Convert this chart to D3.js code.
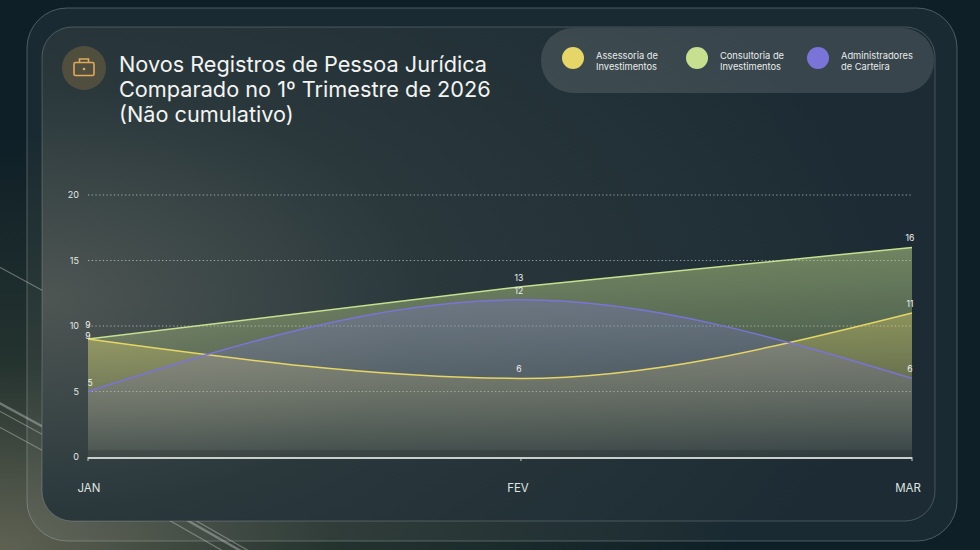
<!DOCTYPE html>
<html>
<head>
<meta charset="utf-8">
<script src="https://cdn.jsdelivr.net/npm/d3@7"></script>
<style>
  html, body { margin: 0; padding: 0; background: #0f2129; }
  svg { display: block; font-family: Inter, "Noto Sans", sans-serif; }
</style>
</head>
<body>
<svg id="chart" width="980" height="550"></svg>
<script>
// ---------------- DATA ----------------

const months = ["JAN", "FEV", "MAR"];
const monthDates = ["2026-01-01", "2026-02-01", "2026-03-01"];
const seriesNames = [
  ["Consultoria de", "Investimentos"],
  ["Assessoria de", "Investimentos"],
  ["Administradores", "de Carteira"]
];
const consultoria = [9, 13, 16];
const assessoria = [9, 6, 11];
const administradores = [5, 12, 6];
const yTicks = [0, 5, 10, 15, 20];
const titleLines = [
  "Novos Registros de Pessoa Jurídica",
  "Comparado no 1º Trimestre de 2026",
  "(Não cumulativo)"
];
// legend order as shown left to right
const legendOrder = [1, 0, 2];

const colors = ["#c6e08f", "#e6d567", "#7b74d8"];
const values = [consultoria, assessoria, administradores];
const dates = monthDates.map(d => new Date(d + "T00:00:00"));

// ---------------- SETUP ----------------

const W = 980, H = 550;
const svg = d3.select("#chart");
const defs = svg.append("defs");

// page background
const bgGrad = defs.append("radialGradient").attr("id", "bg")
  .attr("cx", "0%").attr("cy", "100%").attr("r", "75%");
bgGrad.append("stop").attr("offset", "0%").attr("stop-color", "#5f6253");
bgGrad.append("stop").attr("offset", "45%").attr("stop-color", "#25332f");
bgGrad.append("stop").attr("offset", "100%").attr("stop-color", "#0e1f27");
svg.append("rect").attr("width", W).attr("height", H).attr("fill", "url(#bg)");

// decorative diagonal streaks in the background
const streaks = [
  [[-10, 262], [60, 300], 1.2],
  [[-10, 398], [60, 436], 2.4],
  [[-10, 406], [60, 444], 1.2],
  [[-10, 422], [60, 460], 1.2],
  [[160, 515], [230, 555], 1.2],
  [[178, 515], [248, 555], 2.4],
  [[186, 515], [256, 555], 1.2]
];
svg.append("g").selectAll("line").data(streaks).join("line")
  .attr("x1", d => d[0][0]).attr("y1", d => d[0][1])
  .attr("x2", d => d[1][0]).attr("y2", d => d[1][1])
  .attr("stroke", "#a4aca8").attr("stroke-opacity", 0.55).attr("stroke-width", d => d[2]);

// outer glass panel
svg.append("rect")
  .attr("x", 27).attr("y", 8).attr("width", 930).attr("height", 533).attr("rx", 40)
  .attr("fill", "#ffffff").attr("fill-opacity", 0.05)
  .attr("stroke", "#b8c2c2").attr("stroke-opacity", 0.35).attr("stroke-width", 1);

// inner panel
const pGrad = defs.append("radialGradient").attr("id", "panel")
  .attr("cx", "0%").attr("cy", "55%").attr("r", "95%");
pGrad.append("stop").attr("offset", "0%").attr("stop-color", "#4e5653");
pGrad.append("stop").attr("offset", "45%").attr("stop-color", "#2a383c");
pGrad.append("stop").attr("offset", "100%").attr("stop-color", "#1d2c34");
svg.append("rect")
  .attr("x", 42).attr("y", 27).attr("width", 893).attr("height", 494).attr("rx", 30)
  .attr("fill", "url(#panel)")
  .attr("stroke", "#c8d2d2").attr("stroke-opacity", 0.25).attr("stroke-width", 1);

// ---------------- HEADER ----------------

const icon = svg.append("g").attr("transform", "translate(84,68)");
icon.append("circle").attr("r", 22).attr("fill", "#57533f").attr("fill-opacity", 0.85);
icon.append("rect").attr("x", -10).attr("y", -5.5).attr("width", 20).attr("height", 13).attr("rx", 1.5)
  .attr("fill", "none").attr("stroke", "#e0a95e").attr("stroke-width", 1.6);
icon.append("path").attr("d", "M-4.5,-5.5 V-9 H4.5 V-5.5")
  .attr("fill", "none").attr("stroke", "#e0a95e").attr("stroke-width", 1.6);
icon.append("circle").attr("cx", 0).attr("cy", 1).attr("r", 1.3).attr("fill", "#e0a95e");

svg.append("g").selectAll("text").data(titleLines).join("text")
  .attr("x", 119).attr("y", (d, i) => 72 + i * 25)
  .attr("fill", "#f3f4f2").attr("font-size", 21.7)
  .text(d => d);

// legend pill
svg.append("rect")
  .attr("x", 541).attr("y", 28).attr("width", 393).attr("height", 65).attr("rx", 32)
  .attr("fill", "#ffffff").attr("fill-opacity", 0.12);

const legend = svg.append("g").selectAll("g").data(legendOrder).join("g")
  .attr("transform", (d, i) => `translate(${[573, 697, 818][i]},58)`);
legend.append("circle").attr("r", 11).attr("fill", d => colors[d]);
legend.append("text").attr("fill", "#e9ecea").attr("font-size", 9.3)
  .selectAll("tspan").data(d => seriesNames[d]).join("tspan")
  .attr("x", 23).attr("y", (d, i) => 1 + i * 10.5)
  .text(d => d);

// ---------------- CHART ----------------

const x = d3.scaleTime().domain(d3.extent(dates)).range([88, 912]);
const y = d3.scaleLinear().domain([0, 20]).range([457, 195]);

// grid
svg.append("g").selectAll("line").data(yTicks.filter(d => d > 0)).join("line")
  .attr("x1", x.range()[0]).attr("x2", x.range()[1])
  .attr("y1", d => y(d)).attr("y2", d => y(d))
  .attr("stroke", "#e6ecea").attr("stroke-opacity", 0.6)
  .attr("stroke-dasharray", "1.3,2.4").attr("stroke-width", 1);

svg.append("g").selectAll("text").data(yTicks).join("text")
  .attr("x", 79).attr("y", d => y(d)).attr("dy", "0.35em")
  .attr("text-anchor", "end").attr("fill", "#e4e7e5").attr("font-size", 9)
  .text(d => d);

// area gradients
colors.forEach((c, i) => {
  const g = defs.append("linearGradient").attr("id", "ag" + i)
    .attr("gradientUnits", "userSpaceOnUse")
    .attr("x1", 0).attr("x2", 0).attr("y1", y(17)).attr("y2", y(0));
  g.append("stop").attr("offset", "0%").attr("stop-color", c).attr("stop-opacity", i === 2 ? 0.42 : 0.52);
  g.append("stop").attr("offset", "100%").attr("stop-color", c).attr("stop-opacity", 0.06);
});

const curves = [d3.curveLinear, d3.curveMonotoneX, d3.curveMonotoneX];

const area = (i) => d3.area()
  .x((d, j) => x(dates[j]))
  .y0(y(0)).y1(d => y(d))
  .curve(curves[i]);
const line = (i) => d3.line()
  .x((d, j) => x(dates[j]))
  .y(d => y(d))
  .curve(curves[i]);

const plot = svg.append("g");
values.forEach((v, i) => {
  plot.append("path").attr("d", area(i)(v)).attr("fill", `url(#ag${i})`);
});
values.forEach((v, i) => {
  plot.append("path").attr("d", line(i)(v))
    .attr("fill", "none").attr("stroke", colors[i]).attr("stroke-width", 1.5);
});

// dark band just above baseline
plot.append("rect")
  .attr("x", x.range()[0]).attr("width", x.range()[1] - x.range()[0])
  .attr("y", y(0) - 7).attr("height", 7)
  .attr("fill", "#000").attr("fill-opacity", 0.12);

// value labels (the two JAN "9" labels are pulled apart)
const labelShift = { "0-0": -5, "1-0": 6 };
values.forEach((v, i) => {
  svg.append("g").selectAll("text").data(v).join("text")
    .attr("x", (d, j) => x(dates[j]) + [i === 2 ? 2 : 0, -2, -2][j])
    .attr("y", (d, j) => y(d) - 9 + (labelShift[i + "-" + j] || 0))
    .attr("dy", "0.35em")
    .attr("text-anchor", "middle").attr("fill", "#eef0ee").attr("font-size", 8.6)
    .text(d => d);
});

// x axis
svg.append("line")
  .attr("x1", x.range()[0]).attr("x2", x.range()[1])
  .attr("y1", y(0) + 1).attr("y2", y(0) + 1)
  .attr("stroke", "#c9d0cb").attr("stroke-width", 2);
svg.append("g").selectAll("line").data(dates).join("line")
  .attr("x1", d => x(d)).attr("x2", d => x(d))
  .attr("y1", y(0)).attr("y2", y(0) + 4)
  .attr("stroke", "#c9d0cb").attr("stroke-width", 1);

svg.append("g").selectAll("text").data(months).join("text")
  .attr("x", (d, i) => x(dates[i]) + [1, -3, -4][i]).attr("y", 492)
  .attr("text-anchor", "middle").attr("fill", "#dfe3e1").attr("font-size", 11.5)
  .text(d => d);
</script>
</body>
</html>
